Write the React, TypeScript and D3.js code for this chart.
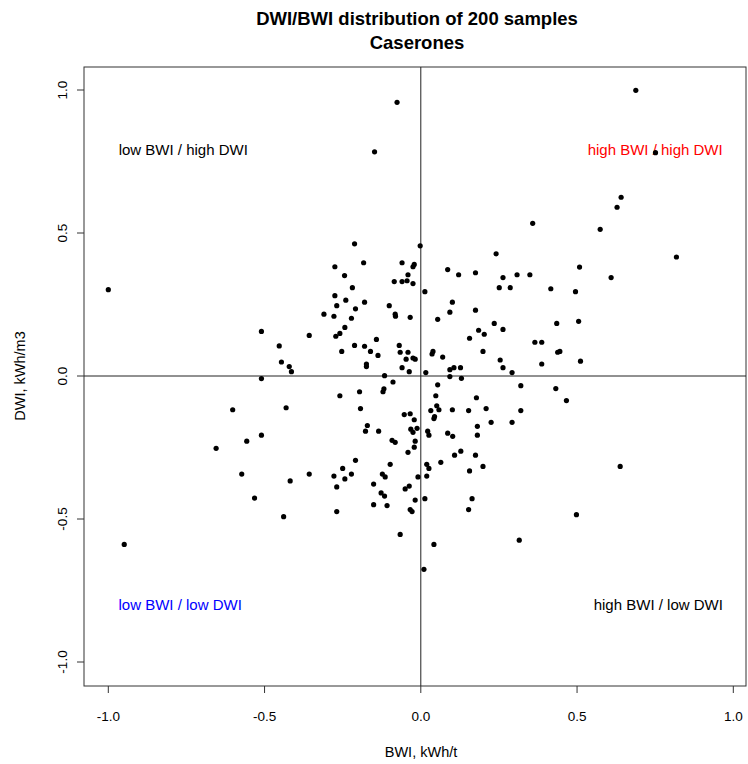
import React, { useEffect, useRef } from 'react';
import * as d3 from 'd3';

// BWI values (x), kWh/t
const bwi = [
  -1.000, -0.510, -0.453, -0.446, -0.421, -0.414,
  -0.076, -0.148, -0.212, -0.002, 0.241, -0.275, -0.183, -0.060, -0.021, -0.025,
  -0.041, -0.244, 0.086, 0.121, 0.175, 0.263, 0.308, 0.251, 0.286, -0.085,
  -0.060, -0.044, -0.025, -0.219, 0.013, -0.275, -0.240, -0.269, -0.180, -0.209,
  -0.101, 0.101, 0.093, 0.175, -0.310, -0.278, -0.222, -0.082, -0.081, -0.034,
  0.054, 0.235, -0.243, 0.263, 0.185, 0.203, 0.156, -0.357, -0.272, -0.259,
  -0.142, -0.212, -0.180, -0.161, -0.137, -0.253, -0.069, -0.066, -0.041, -0.047,
  -0.025, -0.018, -0.174, -0.174, -0.060, -0.037, -0.116, 0.036, 0.039, 0.070,
  0.199, 0.016, 0.093, 0.106, 0.127, 0.093, 0.130, 0.254, 0.263, 0.292,
  0.688, 0.751, 0.641, 0.628, 0.358, 0.574, 0.818, 0.508, 0.609, 0.349,
  0.416, 0.495, 0.435, 0.505, 0.365, 0.387, 0.438, 0.445, 0.387, 0.511,
  -0.510, -0.602, -0.431, -0.510, -0.557, -0.655, -0.573, -0.418, -0.532, -0.439, -0.949,
  -0.089, -0.259, -0.196, -0.121, -0.118, 0.054, 0.048, 0.178, -0.193, 0.051,
  0.058, 0.032, 0.101, 0.153, 0.209, -0.053, -0.034, -0.021, 0.044, 0.042,
  -0.171, -0.177, -0.135, -0.032, -0.025, -0.012, 0.022, 0.026, 0.086, 0.102,
  0.181, 0.181, 0.225, -0.092, -0.082, -0.018, -0.021, -0.041, 0.128, 0.108,
  0.175, -0.209, -0.098, 0.019, 0.026, 0.064, 0.199, 0.156, -0.357, -0.278,
  -0.250, -0.243, -0.222, -0.123, -0.114, -0.009, 0.019, -0.269, -0.151, -0.050,
  -0.037, -0.127, -0.116, -0.018, 0.013, 0.164, -0.151, -0.108, -0.034, -0.028,
  0.153, -0.269, -0.066, 0.042, 0.010,
  0.320, 0.432, 0.466, 0.320, 0.292, 0.638, 0.498, 0.315
];

// DWI values (y), kWh/m3
const dwi = [
  0.302, 0.156, 0.105, 0.049, 0.033, 0.015,
  0.957, 0.784, 0.462, 0.455, 0.427, 0.382, 0.396, 0.396, 0.390, 0.382,
  0.354, 0.351, 0.372, 0.354, 0.361, 0.344, 0.354, 0.309, 0.309, 0.330,
  0.330, 0.333, 0.323, 0.309, 0.295, 0.281, 0.265, 0.246, 0.258, 0.235,
  0.246, 0.258, 0.223, 0.230, 0.216, 0.209, 0.202, 0.216, 0.209, 0.205,
  0.198, 0.184, 0.170, 0.163, 0.160, 0.146, 0.132, 0.142, 0.139, 0.149,
  0.128, 0.107, 0.104, 0.086, 0.072, 0.086, 0.107, 0.083, 0.083, 0.059,
  0.063, 0.059, 0.042, 0.033, 0.029, 0.015, 0.001, 0.077, 0.086, 0.066,
  0.086, 0.012, 0.022, 0.029, 0.029, -0.002, -0.008, 0.056, 0.029, 0.012,
  0.999, 0.781, 0.625, 0.590, 0.534, 0.513, 0.416, 0.381, 0.344, 0.354,
  0.305, 0.295, 0.184, 0.191, 0.118, 0.118, 0.083, 0.086, 0.042, 0.052,
  -0.009, -0.118, -0.111, -0.207, -0.228, -0.253, -0.343, -0.367, -0.427, -0.492, -0.589,
  -0.021, -0.069, -0.055, -0.055, -0.045, -0.031, -0.069, -0.076, -0.114, -0.104,
  -0.118, -0.121, -0.118, -0.121, -0.114, -0.135, -0.132, -0.153, -0.142, -0.149,
  -0.173, -0.193, -0.193, -0.186, -0.197, -0.183, -0.193, -0.207, -0.200, -0.211,
  -0.176, -0.207, -0.162, -0.225, -0.232, -0.228, -0.249, -0.267, -0.263, -0.277,
  -0.277, -0.295, -0.309, -0.309, -0.323, -0.302, -0.316, -0.332, -0.343, -0.350,
  -0.323, -0.360, -0.343, -0.343, -0.353, -0.353, -0.350, -0.388, -0.378, -0.395,
  -0.385, -0.409, -0.420, -0.434, -0.429, -0.429, -0.450, -0.453, -0.467, -0.474,
  -0.467, -0.474, -0.554, -0.589, -0.676,
  -0.034, -0.044, -0.086, -0.121, -0.162, -0.316, -0.485, -0.574
];

const ticks = [-1.0, -0.5, 0.0, 0.5, 1.0];

const quadrantLabels = ['low BWI / high DWI', 'high BWI / high DWI', 'low BWI / low DWI', 'high BWI / low DWI'];
const quadrantX = [-0.76, 0.75, -0.77, 0.76];
const quadrantY = [0.79, 0.79, -0.80, -0.80];
const quadrantColors = ['black', 'red', 'blue', 'black'];

const App = () => {
  const svgRef = useRef(null);

  useEffect(() => {
    const svg = d3.select(svgRef.current);
    svg.selectAll('*').remove();

    const font = 'Liberation Sans, Arial, sans-serif';
    const box = { left: 84, right: 746, top: 67, bottom: 686 };

    const x = d3.scaleLinear().domain([-1, 1]).range([108.3, 733.3]);
    const y = d3.scaleLinear().domain([-1, 1]).range([662, 90]);

    // title
    svg.append('text')
      .attr('x', 417).attr('y', 25)
      .attr('text-anchor', 'middle')
      .style('font-family', font).style('font-weight', 'bold').style('font-size', '18.5px')
      .text('DWI/BWI distribution of 200 samples');
    svg.append('text')
      .attr('x', 417).attr('y', 49)
      .attr('text-anchor', 'middle')
      .style('font-family', font).style('font-weight', 'bold').style('font-size', '18.5px')
      .text('Caserones');

    // plot box
    svg.append('rect')
      .attr('x', box.left).attr('y', box.top)
      .attr('width', box.right - box.left).attr('height', box.bottom - box.top)
      .attr('fill', 'none').attr('stroke', '#333').attr('stroke-width', 1);

    // x axis ticks
    const xt = svg.append('g');
    xt.selectAll('line').data(ticks).enter().append('line')
      .attr('x1', d => x(d)).attr('x2', d => x(d))
      .attr('y1', box.bottom).attr('y2', box.bottom + 7)
      .attr('stroke', '#333');
    xt.selectAll('text').data(ticks).enter().append('text')
      .attr('x', d => x(d)).attr('y', 721)
      .attr('text-anchor', 'middle')
      .style('font-family', font).style('font-size', '13.5px')
      .text(d => d.toFixed(1));

    // y axis ticks (rotated labels)
    const yt = svg.append('g');
    yt.selectAll('line').data(ticks).enter().append('line')
      .attr('x1', box.left - 7).attr('x2', box.left)
      .attr('y1', d => y(d)).attr('y2', d => y(d))
      .attr('stroke', '#333');
    yt.selectAll('text').data(ticks).enter().append('text')
      .attr('transform', d => `translate(67,${y(d)}) rotate(-90)`)
      .attr('text-anchor', 'middle')
      .style('font-family', font).style('font-size', '13.5px')
      .text(d => d.toFixed(1));

    // axis titles
    svg.append('text')
      .attr('x', 421).attr('y', 757)
      .attr('text-anchor', 'middle')
      .style('font-family', font).style('font-size', '14.5px')
      .text('BWI, kWh/t');
    svg.append('text')
      .attr('transform', `translate(25,376) rotate(-90)`)
      .attr('text-anchor', 'middle')
      .style('font-family', font).style('font-size', '14.5px')
      .text('DWI, kWh/m3');

    // zero lines
    svg.append('line')
      .attr('x1', x(0)).attr('x2', x(0))
      .attr('y1', box.top).attr('y2', box.bottom)
      .attr('stroke', '#222');
    svg.append('line')
      .attr('x1', box.left).attr('x2', box.right)
      .attr('y1', y(0)).attr('y2', y(0))
      .attr('stroke', '#222');

    // quadrant labels
    svg.append('g').selectAll('text').data(quadrantLabels).enter().append('text')
      .attr('x', (d, i) => x(quadrantX[i]))
      .attr('y', (d, i) => y(quadrantY[i]))
      .attr('dy', '0.35em')
      .attr('text-anchor', 'middle')
      .attr('fill', (d, i) => quadrantColors[i])
      .style('font-family', font).style('font-size', '15px')
      .text(d => d);

    // points
    svg.append('g').selectAll('circle').data(bwi).enter().append('circle')
      .attr('cx', d => x(d))
      .attr('cy', (d, i) => y(dwi[i]))
      .attr('r', 2.6)
      .attr('fill', 'black');
  }, []);

  return (
    <svg ref={svgRef} width={748} height={764}
      style={{ position: 'absolute', left: 0, top: 0, background: 'white' }} />
  );
};

export default App;
